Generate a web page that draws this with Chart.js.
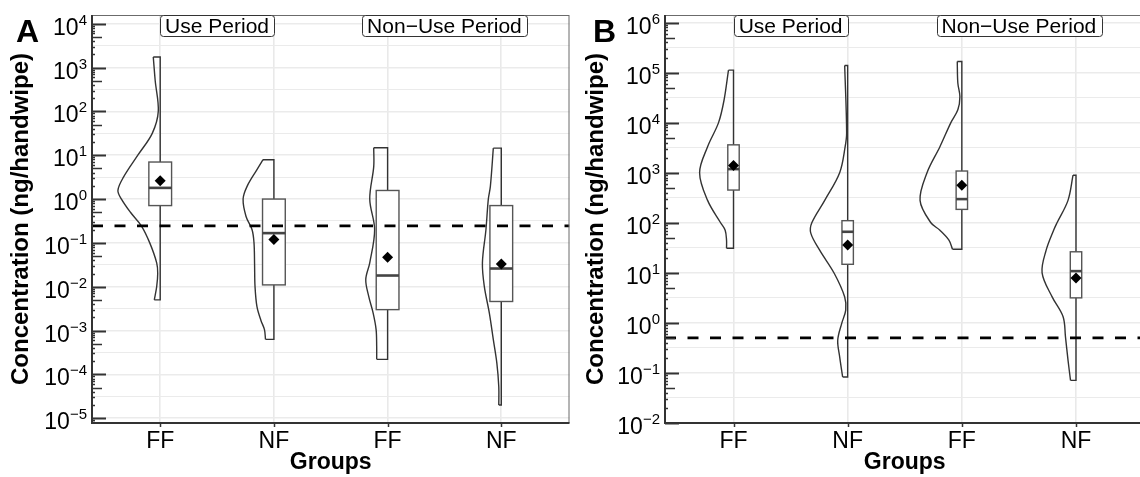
<!DOCTYPE html>
<html lang="en">
<head>
<meta charset="UTF-8">
<title>Concentration (ng/handwipe) by group</title>
<script src="https://cdn.jsdelivr.net/npm/chart.js"></script>
<style>
  html, body { margin: 0; padding: 0; background: #fff; overflow: hidden; }
  body { width: 1140px; height: 477px; position: relative; }
  canvas { position: absolute; top: 0; }
  #chartA { left: 0; }
  #chartB { left: 575px; }
</style>
</head>
<body>
<canvas id="chartA" width="575" height="477"></canvas>
<canvas id="chartB" width="575" height="477"></canvas>
<script>
// ---- data ----
const groups = ['FF', 'NF', 'FF', 'NF'];
const periods = ['Use Period', 'Non\u2212Use Period'];

// Panel A : box stats, mean, detection limit
const aQ1 = [0.71, 0.011, 0.003, 0.0046];
const aMedian = [1.8, 0.167, 0.018, 0.026];
const aQ3 = [7.0, 1.0, 1.57, 0.71];
const aMean = [2.6, 0.12, 0.047, 0.033];
const aLimit = 0.245;
const aDecades = [-5, -4, -3, -2, -1, 0, 1, 2, 3, 4];
// half violins: concentration, half width (in category units)
const aViolinY = [
  [1740, 500, 100, 31.6, 10, 3.16, 1.58, 1, 0.5, 0.245, 0.1, 0.035, 0.02, 0.01, 0.005],
  [7.9, 4.7, 1.95, 1, 0.4, 0.2, 0.1, 0.032, 0.01, 0.0035, 0.0017, 0.00105, 0.00063],
  [14.8, 5.5, 1, 0.2, 0.035, 0.0145, 0.006, 0.0025, 0.00105, 0.00043, 0.00022],
  [14.5, 1.95, 1, 0.2, 0.035, 0.01, 0.0025, 0.00062, 0.00018, 0.000052, 0.00002]
];
const aViolinW = [
  [0.061, 0.044, 0.017, 0.070, 0.197, 0.323, 0.372, 0.341, 0.262, 0.166, 0.092, 0.031, 0.022, 0.031, 0.052],
  [0.096, 0.149, 0.236, 0.271, 0.245, 0.192, 0.175, 0.170, 0.166, 0.149, 0.114, 0.083, 0.074],
  [0.122, 0.122, 0.157, 0.114, 0.157, 0.192, 0.166, 0.127, 0.101, 0.096, 0.096],
  [0.070, 0.096, 0.114, 0.135, 0.166, 0.149, 0.105, 0.070, 0.039, 0.022, 0.022]
];

// Panel B
const bQ1 = [450, 14.8, 185, 3.16];
const bMedian = [1180, 66, 297, 10.8];
const bQ3 = [3600, 110, 1080, 26.3];
const bMean = [1400, 36, 560, 7.9];
const bLimit = 0.5;
const bDecades = [-2, -1, 0, 1, 2, 3, 4, 5, 6];
const bViolinY = [
  [112000, 28000, 10000, 3300, 1000, 280, 100, 71, 45, 31],
  [138000, 6200, 3300, 1000, 280, 100, 62, 28, 9.8, 3.3, 1.8, 0.98, 0.45, 0.21, 0.083],
  [166000, 62000, 33000, 18000, 10000, 3300, 1000, 280, 100, 71, 45, 29.5],
  [890, 280, 100, 71, 28, 10, 3.3, 1.32, 0.52, 0.18, 0.071]
];
const bViolinW = [
  [0.044, 0.083, 0.131, 0.227, 0.297, 0.227, 0.113, 0.073, 0.061, 0.061],
  [0.026, 0.009, 0.022, 0.070, 0.201, 0.314, 0.323, 0.244, 0.118, 0.026, 0.017, 0.052, 0.087, 0.070, 0.044],
  [0.040, 0.035, 0.017, 0.035, 0.096, 0.192, 0.305, 0.366, 0.271, 0.192, 0.113, 0.082],
  [0.026, 0.070, 0.166, 0.196, 0.262, 0.297, 0.209, 0.113, 0.092, 0.070, 0.048]
];

const FONT = '"Liberation Sans", Arial, Helvetica, sans-serif';

function panelPlugin(p) {
  return {
    id: 'panel' + p.letter,
    // boxes go on top of the violins but under mean points and the dashed line
    afterDatasetDraw(chart, args) {
      if (!chart.data.datasets[args.index].boxLayer) return;
      const xs = chart.scales.x, ys = chart.scales.y, ctx = chart.ctx;
      ctx.save();
      p.q1.forEach((q1, i) => {
        const x0 = xs.getPixelForValue(i - p.boxHalf);
        const x1 = xs.getPixelForValue(i + p.boxHalf);
        const yt = ys.getPixelForValue(p.q3[i]);
        const yb = ys.getPixelForValue(q1);
        ctx.fillStyle = '#fff';
        ctx.fillRect(x0, yt, x1 - x0, yb - yt);
        ctx.strokeStyle = '#555';
        ctx.lineWidth = 1.4;
        ctx.strokeRect(x0, yt, x1 - x0, yb - yt);
        const ym = ys.getPixelForValue(p.median[i]);
        ctx.strokeStyle = '#444';
        ctx.lineWidth = 2.6;
        ctx.beginPath();
        ctx.moveTo(x0, ym);
        ctx.lineTo(x1, ym);
        ctx.stroke();
      });
      ctx.restore();
    },
    afterDraw(chart) {
      const ctx = chart.ctx, a = chart.chartArea;
      const xs = chart.scales.x, ys = chart.scales.y;
      ctx.save();

      // panel border + axis lines
      ctx.strokeStyle = '#6b6b6b';
      ctx.lineWidth = 1;
      ctx.strokeRect(a.left + 0.5, a.top + 0.5, a.right - a.left - 1, a.bottom - a.top - 1);
      ctx.strokeStyle = '#333';
      ctx.lineWidth = 2;
      ctx.beginPath();
      ctx.moveTo(a.left, a.top);
      ctx.lineTo(a.left, a.bottom);
      ctx.lineTo(a.right, a.bottom);
      ctx.stroke();

      // log ticks on the inside of the y axis
      const lo = Math.floor(Math.log10(ys.min)), hi = Math.ceil(Math.log10(ys.max));
      for (let n = lo; n <= hi; n++) {
        for (let k = 1; k <= 9; k++) {
          const v = k * Math.pow(10, n);
          if (v < ys.min || v > ys.max) continue;
          const y = Math.round(ys.getPixelForValue(v)) + 0.5;
          const len = k === 1 ? 14 : (k === 5 ? 10 : 3);
          ctx.lineWidth = k === 1 ? 2 : 1.5;
          ctx.beginPath();
          ctx.moveTo(a.left, y);
          ctx.lineTo(a.left + len, y);
          ctx.stroke();
        }
      }
      // small ticks below x axis
      ctx.lineWidth = 1.5;
      groups.forEach((g, i) => {
        const x = Math.round(xs.getPixelForValue(i)) + 0.5;
        ctx.beginPath();
        ctx.moveTo(x, a.bottom);
        ctx.lineTo(x, a.bottom + 4);
        ctx.stroke();
      });

      // y tick labels 10^n
      ctx.fillStyle = '#000';
      ctx.textBaseline = 'alphabetic';
      ctx.textAlign = 'right';
      p.decades.forEach(n => {
        const y = ys.getPixelForValue(Math.pow(10, n));
        const exp = n < 0 ? '\u2212' + (-n) : String(n);
        ctx.font = '15px ' + FONT;
        const ew = ctx.measureText(exp).width;
        ctx.fillText(exp, a.left - 5, y + 1);
        ctx.font = '23px ' + FONT;
        ctx.fillText('10', a.left - 5 - ew, y + 11);
      });

      // x tick labels
      ctx.textAlign = 'center';
      ctx.font = '23px ' + FONT;
      groups.forEach((g, i) => ctx.fillText(g, xs.getPixelForValue(i), 448));

      // axis titles
      ctx.font = 'bold 23px ' + FONT;
      ctx.fillText('Groups', (a.left + a.right) / 2, 469);
      ctx.save();
      ctx.translate(21, (a.top + a.bottom) / 2);
      ctx.rotate(-Math.PI / 2);
      ctx.textBaseline = 'middle';
      ctx.font = 'bold 24px ' + FONT;
      ctx.fillText('Concentration (ng/handwipe)', 0, 0);
      ctx.restore();

      // panel letter
      ctx.textAlign = 'left';
      ctx.font = 'bold 32px ' + FONT;
      ctx.fillText(p.letter, p.letterX, 42);

      // period labels
      ctx.font = '21px ' + FONT;
      ctx.textAlign = 'center';
      periods.forEach((t, k) => {
        const cx = (xs.getPixelForValue(2 * k) + xs.getPixelForValue(2 * k + 1)) / 2;
        const w = ctx.measureText(t).width + 10;
        ctx.beginPath();
        ctx.roundRect(Math.round(cx - w / 2) + 0.5, a.top + 0.5, Math.round(w), 21, 3);
        ctx.fillStyle = '#fff';
        ctx.fill();
        ctx.strokeStyle = '#333';
        ctx.lineWidth = 1;
        ctx.stroke();
        ctx.fillStyle = '#000';
        ctx.fillText(t, cx, a.top + 17.5);
      });
      ctx.restore();
    }
  };
}

function makePanel(id, p) {
  const datasets = [];
  p.violinY.forEach((vals, i) => {
    const w = p.violinW[i];
    const last = vals.length - 1;
    // curved side of the half violin
    datasets.push({
      data: vals.map((v, k) => ({ x: i - w[k], y: v })),
      showLine: true, tension: 0.35, pointRadius: 0,
      borderColor: '#333', borderWidth: 1.4, order: 3
    });
    // straight side plus the flat ends
    datasets.push({
      data: [{ x: i - w[0], y: vals[0] }, { x: i, y: vals[0] },
             { x: i, y: vals[last] }, { x: i - w[last], y: vals[last] }],
      showLine: true, tension: 0, pointRadius: 0,
      borderColor: '#333', borderWidth: 1.4, order: 3
    });
  });
  datasets.push({ data: [], boxLayer: true, order: 2 });
  datasets.push({
    data: p.mean.map((m, i) => ({ x: i, y: m })),
    pointStyle: 'rectRot', pointRadius: 5.5,
    backgroundColor: '#000', borderColor: '#000', borderWidth: 0, order: 1
  });
  datasets.push({
    data: [{ x: -0.6, y: p.limit }, { x: 3.6, y: p.limit }],
    showLine: true, pointRadius: 0, borderColor: '#000', borderWidth: 2.8,
    borderDash: [11, 11.5], order: 0
  });

  new Chart(document.getElementById(id), {
    type: 'scatter',
    data: { datasets },
    options: {
      responsive: false,
      animation: false,
      devicePixelRatio: 1,
      events: [],
      layout: { padding: { top: 15, right: 3, left: 0, bottom: 0 } },
      plugins: { legend: { display: false }, tooltip: { enabled: false } },
      scales: {
        x: {
          type: 'linear', min: -0.6, max: 3.6,
          afterBuildTicks: s => { s.ticks = groups.map((g, i) => ({ value: i })); },
          afterFit: s => { s.height = 54; },
          ticks: { display: false },
          border: { display: false },
          grid: { color: '#e9e9e9', lineWidth: 1.6, drawTicks: false }
        },
        y: {
          type: 'logarithmic', min: p.yMin, max: p.yMax,
          afterBuildTicks: s => {
            const t = [];
            p.decades.forEach(n => {
              t.push({ value: Math.pow(10, n), major: true });
              const h = Math.pow(10, n + 0.5);
              if (h < p.yMax) t.push({ value: h, major: false });
            });
            s.ticks = t;
          },
          afterFit: s => { s.width = p.axisWidth; },
          ticks: { display: false },
          border: { display: false },
          grid: {
            color: '#ebebeb', drawTicks: false,
            lineWidth: c => (c.tick && c.tick.major ? 1.6 : 1.1)
          }
        }
      }
    },
    plugins: [panelPlugin(p)]
  });
}

makePanel('chartA', {
  letter: 'A', letterX: 16, axisWidth: 92, boxHalf: 0.1,
  yMin: Math.pow(10, -5.11), yMax: Math.pow(10, 4.2), decades: aDecades,
  q1: aQ1, median: aMedian, q3: aQ3, mean: aMean, limit: aLimit,
  violinY: aViolinY, violinW: aViolinW
});
makePanel('chartB', {
  letter: 'B', letterX: 18, axisWidth: 90, boxHalf: 0.05,
  yMin: 0.01, yMax: Math.pow(10, 6.15), decades: bDecades,
  q1: bQ1, median: bMedian, q3: bQ3, mean: bMean, limit: bLimit,
  violinY: bViolinY, violinW: bViolinW
});
</script>
</body>
</html>
